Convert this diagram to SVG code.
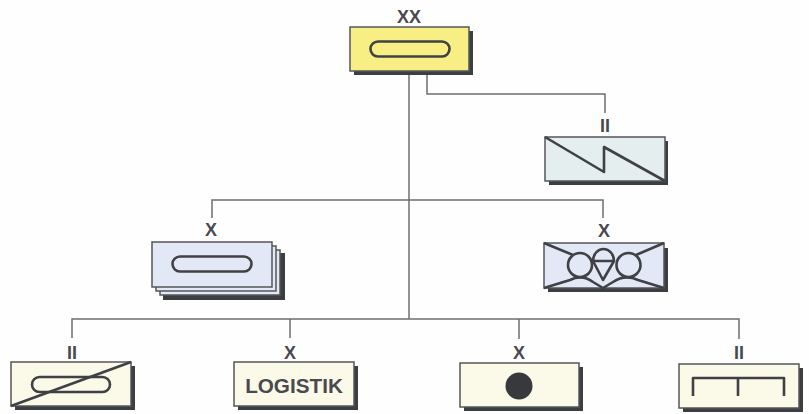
<svg xmlns="http://www.w3.org/2000/svg" width="809" height="414" viewBox="0 0 809 414">
<style>
.box{stroke:#56565a;stroke-width:1.5}
.sh{fill:#3c3f42}
.sym{fill:none;stroke:#3f4145;stroke-width:2.6;stroke-linejoin:round}
.con{fill:none;stroke:#6e6e6e;stroke-width:1.5}
text{font-family:"Liberation Sans",Arial,sans-serif;font-weight:700;fill:#4a4a4e;text-anchor:middle}
.e{font-size:18px}
</style>
<rect width="809" height="414" fill="#fefefe"/>
<g id="connectors">
<path class="con" d="M409 72V319"/>
<path class="con" d="M427 72V94H605V113"/>
<path class="con" d="M212 218V200H603V218"/>
<path class="con" d="M72 338V319H739V339"/>
<path class="con" d="M290 319V338"/>
<path class="con" d="M519 319V339"/>
</g>
<g id="n-xx">
<text class="e" x="409" y="23">XX</text>
<rect class="sh" x="354" y="31" width="119" height="44"/>
<rect class="box" x="350" y="27" width="119" height="44" fill="#f8ef84"/>
<rect class="sym" x="370.500" y="41.500" width="79" height="15" rx="7.500"/>
</g>
<g id="n-signal">
<text class="e" x="605" y="132">II</text>
<rect class="sh" x="549" y="141" width="119" height="44"/>
<rect class="box" x="545" y="137" width="120" height="44" fill="#e4eeee"/>
<path class="sym" d="M545 137L604 172V147L665 181"/>
</g>
<g id="n-x-left">
<text class="e" x="211" y="236">X</text>
<rect class="sh" x="163" y="253" width="122" height="47"/>
<rect class="box" x="160" y="250" width="120" height="45" fill="#e2e8f6"/>
<rect class="box" x="156" y="246" width="120" height="45" fill="#e2e8f6"/>
<rect class="box" x="152" y="242" width="120" height="45" fill="#e2e8f6"/>
<rect class="sym" x="172.500" y="256.500" width="79" height="15" rx="7.500"/>
</g>
<g id="n-x-right">
<text class="e" x="604" y="237">X</text>
<rect class="sh" x="548" y="248" width="120" height="44"/>
<rect class="box" x="544" y="243" width="120" height="45" fill="#e2e8f6"/>
<path class="sym" d="M544 243L573 255M664 243L636 255M544 288L570 280Q582 274 593 282L603 288L613 282Q625 274 638 280L664 288"/>
<circle class="sym" cx="580" cy="265" r="12"/>
<circle class="sym" cx="628.500" cy="265" r="12"/>
<path class="sym" d="M593 261A10.500 12 0 0 1 614 261Z"/>
<path class="sym" d="M593 261L603 280L614 261"/>
</g>
<g id="n-b1">
<text class="e" x="72" y="359">II</text>
<rect class="sh" x="15" y="366" width="120" height="44"/>
<rect class="box" x="11" y="362" width="120" height="44" fill="#fbf9e8"/>
<rect class="sym" x="32" y="377" width="78" height="15" rx="7.500"/>
<path class="sym" d="M11 406L131 362"/>
</g>
<g id="n-logistik">
<text class="e" x="290" y="359">X</text>
<rect class="sh" x="238" y="366" width="120" height="44"/>
<rect class="box" x="234" y="362" width="120" height="44" fill="#fbf9e8"/>
<text x="294" y="393" font-size="20.700px">LOGISTIK</text>
</g>
<g id="n-b3">
<text class="e" x="519" y="359">X</text>
<rect class="sh" x="464" y="367" width="119" height="44"/>
<rect class="box" x="460" y="363" width="119" height="44" fill="#fbf9e8"/>
<circle cx="519" cy="386" r="13.500" fill="#38393d"/>
</g>
<g id="n-b4">
<text class="e" x="739" y="359">II</text>
<rect class="sh" x="683" y="368" width="120" height="44"/>
<rect class="box" x="679" y="364" width="120" height="44" fill="#fbf9e8"/>
<path class="sym" d="M693 396V378H784V396M738 378V396"/>
</g>
</svg>
